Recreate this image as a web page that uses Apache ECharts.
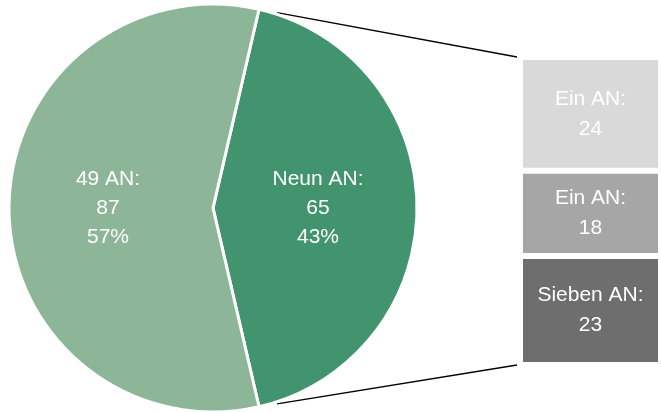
<!DOCTYPE html>
<html>
<head>
<meta charset="utf-8">
<script src="https://cdn.jsdelivr.net/npm/echarts@6/dist/echarts.min.js"></script>
<style>
  html, body { margin: 0; padding: 0; background: #fff; }
  #chart { width: 661px; height: 412px; }
</style>
</head>
<body>
<div id="chart"></div>
<script>
// Pie: share of the whole
const pieNames = ['Neun AN', '49 AN'];
const pieValues = [65, 87];
const pieColors = ['#41946d', '#8db598'];

// Breakdown bar of the "Neun AN" slice, listed bottom to top
const barNames = ['Sieben AN', 'Ein AN', 'Ein AN'];
const barValues = [23, 18, 24];
const barColors = ['#6e6e6e', '#a6a6a6', '#d9d9d9'];

const FONT = '"Liberation Sans", Arial, sans-serif';

// layout
const pieCenter = [213, 208];
const pieRadius = 204;
const barGrid = { left: 520, top: 57, width: 153, height: 308 };

const total = pieValues.reduce((a, b) => a + b, 0);
// first slice centred on the right-hand side
const startAngle = (pieValues[0] / total) * 180;

const chart = echarts.init(document.getElementById('chart'), null, { renderer: 'canvas' });

const barTotal = barValues.reduce((a, b) => a + b, 0);

const option = {
  animation: false,
  textStyle: { fontFamily: FONT },
  grid: { left: barGrid.left, top: barGrid.top, width: barGrid.width, height: barGrid.height },
  xAxis: { type: 'category', data: ['Neun AN'], show: false },
  yAxis: { type: 'value', min: 0, max: barTotal, show: false },
  series: [
    {
      type: 'pie',
      center: pieCenter,
      radius: pieRadius,
      startAngle: startAngle,
      clockwise: true,
      data: pieNames.map((n, i) => ({ name: n, value: pieValues[i], itemStyle: { color: pieColors[i] } })),
      itemStyle: { borderColor: '#fff', borderWidth: 3 },
      label: {
        position: 'inside',
        formatter: p => p.name + ':\n' + p.value + '\n' + Math.round(p.percent) + '%',
        color: '#fff',
        fontSize: 21,
        lineHeight: 29,
        fontFamily: FONT
      },
      emphasis: { disabled: true }
    }
  ].concat(barValues.map((v, i) => ({
    type: 'bar',
    name: barNames[i],
    stack: 'neun',
    barWidth: '100%',
    data: [v],
    itemStyle: { color: barColors[i], borderColor: '#fff', borderWidth: 3 },
    label: {
      show: true,
      position: 'inside',
      formatter: '{a}:\n{c}',
      color: '#fff',
      fontSize: 21,
      lineHeight: 30,
      fontFamily: FONT
    },
    emphasis: { disabled: true }
  })))
};

chart.setOption(option);

// connector lines from the slice corners to the bar ends
const toRad = Math.PI / 180;
function corner(angleDeg) {
  return [pieCenter[0] + pieRadius * Math.cos(angleDeg * toRad),
          pieCenter[1] - pieRadius * Math.sin(angleDeg * toRad)];
}
const yTop = chart.convertToPixel({ yAxisIndex: 0 }, barTotal);
const yBottom = chart.convertToPixel({ yAxisIndex: 0 }, 0);
const xBar = barGrid.left - 3;
function connector(from, to) {
  const t = 0.07;
  const sx = from[0] + (to[0] - from[0]) * t;
  const sy = from[1] + (to[1] - from[1]) * t;
  return {
    type: 'line',
    shape: { x1: sx, y1: sy, x2: to[0], y2: to[1] },
    style: { stroke: '#000', lineWidth: 1.4 },
    silent: true
  };
}
chart.setOption({
  graphic: [
    connector(corner(startAngle), [xBar, yTop]),
    connector(corner(-startAngle), [xBar, yBottom])
  ]
});
</script>
</body>
</html>
